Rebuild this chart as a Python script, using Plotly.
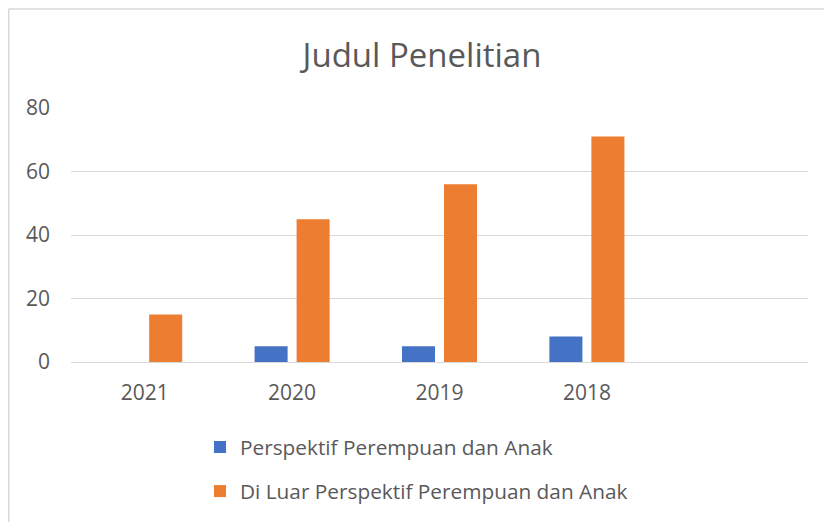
import plotly.graph_objects as go

categories = ["2021", "2020", "2019", "2018"]
series_names = ["Perspektif Perempuan dan Anak", "Di Luar Perspektif Perempuan dan Anak"]
perspektif = [0, 5, 5, 8]
di_luar = [15, 45, 56, 71]
y_ticks = [0, 20, 40, 60, 80]

W, H = 832, 522
OFF = 8  # page offset of the figure in the browser window
# plot area in screen pixels, converted to figure pixels
L, R, T, B = 71 - OFF, 808 - OFF, 108 - OFF, 362 - OFF

FONT = "Open Sans"
GREY = "#595959"

fig = go.Figure()
fig.add_trace(go.Bar(x=categories, y=perspektif, name=series_names[0],
                     marker=dict(color="#4472C4", line=dict(width=0)),
                     legendgroup="a"))
fig.add_trace(go.Bar(x=categories, y=di_luar, name=series_names[1],
                     marker=dict(color="#ED7D31", line=dict(width=0)),
                     legendgroup="b"))

pw = R - L
ph = B - T

def px_x(p):  # p in screen pixels
    return (p - OFF - L) / pw

def px_y(p):
    return (B - (p - OFF)) / ph

fig.update_layout(
    width=W, height=H,
    margin=dict(l=L, r=W - R, t=T, b=H - B, autoexpand=False),
    paper_bgcolor="white", plot_bgcolor="white",
    font=dict(family=FONT, color=GREY, size=21),
    title=dict(text="Judul Penelitian", x=(422 - OFF) / W, xanchor="center",
               y=1 - (55 - OFF) / H, yanchor="middle",
               font=dict(family=FONT, size=33, color=GREY)),
    barmode="group", bargap=0.43, bargroupgap=0.214,
    xaxis=dict(type="category", categoryorder="array", categoryarray=categories,
               range=[-0.5, 4.5], showgrid=False, showline=True,
               linecolor="#d9d9d9", linewidth=1, ticks="", ticklabelstandoff=12,
               tickfont=dict(family=FONT, size=21, color=GREY)),
    yaxis=dict(range=[0, 80], tickvals=y_ticks, showgrid=True, gridcolor="#d9d9d9",
               gridwidth=1, zeroline=False, showline=False, ticks="",
               ticklabelstandoff=20,
               tickfont=dict(family=FONT, size=21, color=GREY)),
    legend=dict(orientation="v", x=px_x(200), xanchor="left",
                y=px_y(427), yanchor="top", tracegroupgap=14,
                font=dict(family=FONT, size=20.8, color=GREY),
                bgcolor="rgba(0,0,0,0)"),
    showlegend=True,
    shapes=[
        dict(type="line", xref="paper", yref="paper", x0=px_x(8.75), x1=px_x(W + 20),
             y0=px_y(9), y1=px_y(9), line=dict(color="#d9d9d9", width=1.5)),
        dict(type="line", xref="paper", yref="paper", x0=px_x(8.75), x1=px_x(8.75),
             y0=px_y(9), y1=px_y(H + 20), line=dict(color="#d9d9d9", width=1.5)),
    ],
)

fig.write_html("out.html")
